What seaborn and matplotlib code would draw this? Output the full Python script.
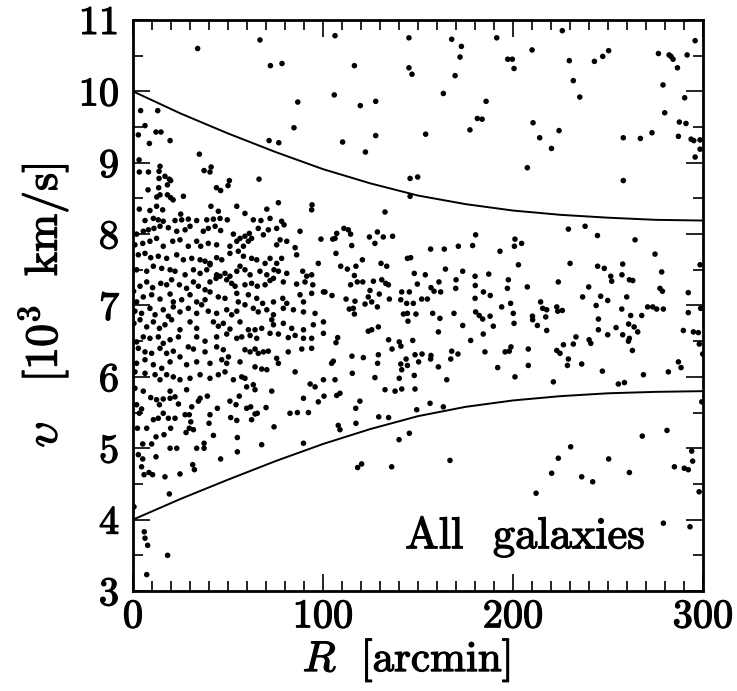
import matplotlib
matplotlib.use("Agg")
import matplotlib.pyplot as plt
import matplotlib.patheffects as pe
import seaborn as sns
import pandas as pd
from matplotlib.ticker import MultipleLocator

# Galaxies (projected radius R in arcmin, line-of-sight velocity v in 10^3 km/s)
upper_band = [
    (34.0, 10.60), (66.8, 10.72), (72.3, 10.36), (78.4, 10.39), (86.7, 9.85), (84.7, 9.49), (71.6, 9.31), (76.7, 9.28),
    (4.0, 9.73), (13.0, 9.73), (6.3, 9.52), (2.8, 9.39), (12.1, 9.43), (14.7, 9.43), (8.6, 9.27), (19.5, 9.31), (3.2, 9.04), (34.9, 9.12),
    (3.3, 8.87), (8.1, 8.87), (13.7, 8.88), (14.2, 8.95), (13.7, 8.78), (16.8, 8.81), (19.1, 8.77), (19.8, 8.75), (18.1, 8.69),
    (7.9, 8.62), (13.5, 8.65), (12.5, 8.52), (14.2, 8.55), (18.1, 8.55), (19.8, 8.51), (21.1, 8.48), (26.5, 8.53),
    (37.4, 8.89), (40.5, 8.87), (41.1, 8.94), (43.9, 8.65), (46.1, 8.61), (50.0, 8.68), (50.7, 8.75), (66.3, 8.77), (76.5, 8.44), (94.2, 8.41),
    (106.3, 10.78), (145.2, 10.75), (167.7, 10.73), (172.8, 10.63), (172.1, 10.48), (191.4, 10.75), (197.2, 10.45), (199.6, 10.45), (200.5, 10.32),
    (116.5, 10.36), (145.2, 10.33), (146.8, 10.24), (169.5, 10.22), (105.9, 9.95), (119.6, 9.80), (127.7, 9.86), (163.3, 9.97), (185.8, 9.86),
    (181.2, 9.62), (183.7, 9.61), (177.3, 9.46), (154.0, 9.40), (127.7, 9.38), (110.3, 9.29), (122.3, 9.15), (145.8, 8.78), (149.8, 8.80), (145.8, 8.53),
    (225.9, 10.85), (210.0, 10.58), (229.6, 10.43), (231.7, 10.15), (235.1, 9.92), (242.8, 10.42), (247.2, 10.49), (250.3, 10.57),
    (276.5, 10.53), (282.1, 10.51), (283.1, 10.49), (284.2, 10.45), (286.5, 10.33), (291.6, 10.51), (295.8, 10.71), (278.9, 10.09), (290.3, 9.91), (279.8, 9.70),
    (210.5, 9.56), (214.0, 9.35), (224.2, 9.45), (220.2, 9.20), (207.5, 8.93), (258.0, 9.35), (267.0, 9.34), (273.1, 9.42), (287.5, 9.57), (291.0, 9.55),
    (287.0, 9.37), (293.7, 9.33), (295.1, 9.31), (298.4, 9.32), (298.4, 9.19), (295.8, 9.08), (258.0, 8.75),
]

core = [
    (3.3, 8.35), (8.9, 8.33), (15.6, 8.34), (12.4, 8.39), (25.1, 8.28), (44.9, 8.32), (54.6, 8.39), (58.9, 8.29), (70.4, 8.35), (94.0, 8.34), (41.0, 8.39),
    (6.3, 8.19), (10.7, 8.22), (13.3, 8.20), (15.9, 8.18), (22.1, 8.19), (25.6, 8.20), (29.1, 8.21), (33.5, 8.19), (38.8, 8.20), (42.3, 8.21), (45.8, 8.22),
    (49.6, 8.20), (63.3, 8.20), (67.3, 8.19), (72.1, 8.22), (78.2, 8.18), (79.5, 8.13),
    (1.9, 8.00), (5.4, 8.04), (8.1, 8.06), (11.0, 8.08), (14.2, 8.11), (18.6, 8.09), (23.0, 8.04), (27.4, 8.06), (30.0, 8.11), (37.0, 8.04), (39.6, 8.08),
    (43.2, 8.11), (46.1, 8.05), (52.8, 8.00), (56.3, 7.94), (58.9, 7.97), (61.2, 8.01), (65.9, 8.08), (68.6, 7.99), (71.2, 8.06), (75.6, 8.08), (87.9, 8.04), (98.9, 7.93),
    (1.0, 7.85), (5.1, 7.87), (8.9, 7.90), (12.4, 7.94), (15.9, 7.83), (20.9, 7.90), (24.7, 7.92), (29.1, 7.83), (33.5, 7.90), (35.6, 7.83), (39.6, 7.87),
    (44.0, 7.85), (51.0, 7.83), (54.6, 7.90), (58.1, 7.83), (60.7, 7.90), (62.4, 7.94), (75.6, 7.85), (77.4, 7.92), (80.9, 7.90), (85.3, 7.81), (86.1, 7.71),
    (2.8, 7.71), (6.3, 7.73), (9.3, 7.67), (13.3, 7.69), (17.7, 7.66), (23.0, 7.71), (26.5, 7.64), (30.9, 7.66), (35.3, 7.64), (37.9, 7.62), (40.5, 7.59),
    (44.0, 7.67), (46.7, 7.64), (51.0, 7.73), (55.4, 7.76), (58.1, 7.69), (62.4, 7.66), (65.1, 7.64), (69.5, 7.59), (72.1, 7.66), (75.6, 7.59), (78.2, 7.66), (97.5, 7.59),
    (1.9, 7.50), (7.2, 7.48), (10.7, 7.55), (15.1, 7.52), (19.5, 7.50), (22.1, 7.48), (27.4, 7.43), (31.8, 7.50), (35.3, 7.45), (38.8, 7.50), (40.5, 7.57),
    (44.0, 7.43), (48.4, 7.45), (51.0, 7.41), (54.6, 7.48), (56.3, 7.55), (58.9, 7.50), (61.6, 7.43), (66.8, 7.48), (70.4, 7.43), (74.2, 7.50), (76.5, 7.48),
    (80.9, 7.45), (89.3, 7.48), (91.4, 7.41), (94.0, 7.43),
    (0.3, 7.20), (3.7, 7.27), (7.2, 7.33), (10.3, 7.25), (14.6, 7.31), (17.7, 7.29), (20.3, 7.36), (24.4, 7.29), (28.2, 7.24), (31.8, 7.33), (34.4, 7.27),
    (37.9, 7.22), (40.5, 7.33), (43.7, 7.38), (45.8, 7.41), (49.3, 7.36), (51.9, 7.31), (53.7, 7.27), (58.9, 7.29), (62.4, 7.31), (65.4, 7.27), (69.5, 7.29),
    (72.1, 7.35), (73.9, 7.38), (79.1, 7.33), (86.1, 7.30), (90.5, 7.33), (94.6, 7.29), (100.2, 7.19),
    (1.9, 7.05), (5.4, 7.12), (9.8, 7.15), (14.2, 7.09), (19.5, 7.16), (21.2, 7.05), (25.6, 7.08), (30.0, 7.15), (33.5, 7.05), (37.9, 7.08), (40.5, 7.19),
    (44.9, 7.12), (48.4, 7.10), (54.6, 7.17), (55.4, 7.05), (60.7, 7.15), (65.1, 7.10), (68.2, 7.03), (73.9, 7.05), (78.8, 7.10), (80.9, 7.03), (87.9, 7.15),
    (89.7, 7.05), (94.0, 7.17), (101.0, 7.19),
    (1.0, 6.92), (4.5, 6.89), (8.9, 6.96), (11.6, 6.87), (15.9, 6.94), (18.6, 6.85), (21.2, 6.98), (24.7, 6.91), (29.1, 6.96), (33.5, 6.89), (36.1, 7.01),
    (39.6, 6.92), (44.0, 6.89), (49.3, 6.94), (51.9, 6.87), (54.6, 6.92), (58.9, 7.01), (63.3, 6.96), (65.9, 6.91), (70.4, 6.94), (73.9, 6.87), (79.1, 6.96),
    (84.4, 6.94), (89.7, 6.91), (95.8, 6.89),
    (0.5, 6.75), (3.7, 6.80), (7.2, 6.70), (10.7, 6.77), (13.9, 6.68), (16.8, 6.73), (20.3, 6.80), (24.7, 6.66), (30.0, 6.77), (33.5, 6.68), (42.3, 6.77),
    (44.9, 6.71), (47.5, 6.75), (51.0, 6.67), (56.3, 6.77), (60.7, 6.66), (64.2, 6.66), (67.7, 6.68), (73.0, 6.80), (73.9, 6.73), (79.1, 6.75), (83.5, 6.68),
    (89.7, 6.66), (94.9, 6.73), (100.2, 6.77), (100.2, 6.61),
    (1.9, 6.49), (5.4, 6.56), (8.9, 6.54), (13.3, 6.56), (15.9, 6.47), (19.5, 6.52), (23.9, 6.56), (33.5, 6.56), (37.9, 6.50), (44.0, 6.56), (49.3, 6.60),
    (54.6, 6.54), (57.2, 6.56), (61.6, 6.58), (65.1, 6.54), (72.1, 6.61), (76.5, 6.60), (81.7, 6.55), (85.3, 6.58), (89.7, 6.54), (94.0, 6.54),
    (2.8, 6.40), (6.3, 6.35), (9.8, 6.33), (14.2, 6.40), (17.7, 6.33), (21.2, 6.36), (24.7, 6.28), (29.1, 6.42), (31.8, 6.39), (37.9, 6.35), (44.0, 6.42),
    (47.5, 6.38), (50.2, 6.28), (58.9, 6.38), (61.6, 6.35), (64.2, 6.39), (65.9, 6.33), (68.6, 6.35), (71.2, 6.36), (75.6, 6.26), (81.7, 6.35), (88.8, 6.39), (94.0, 6.40),
    (1.9, 6.19), (6.3, 6.24), (10.7, 6.17), (15.1, 6.12), (19.5, 6.21), (28.2, 6.17), (33.5, 6.21), (40.5, 6.19), (46.7, 6.24), (49.3, 6.19), (56.3, 6.21),
    (64.2, 6.14), (67.7, 6.11), (70.4, 6.10), (76.5, 6.19),
    (1.0, 6.07), (6.3, 6.05), (11.6, 6.03), (14.2, 5.96), (17.7, 6.03), (21.2, 6.00), (24.7, 5.96), (30.0, 5.98), (35.3, 6.03), (40.5, 5.98), (44.9, 6.03),
    (48.4, 6.07), (52.8, 5.96), (57.2, 6.00), (58.9, 5.98), (63.3, 5.89), (85.3, 6.07), (100.2, 5.96), (93.2, 5.90),
    (1.0, 5.84), (5.4, 5.80), (19.5, 5.80), (28.2, 5.82), (59.8, 5.86), (64.2, 5.82), (73.0, 5.80), (95.8, 5.86),
]

middle = [
    (132.6, 8.31), (111.0, 8.08), (113.3, 8.06), (114.5, 8.00), (107.2, 8.01), (105.1, 7.93), (106.3, 7.94), (124.4, 7.96), (128.6, 8.03), (131.7, 7.96),
    (136.6, 7.97), (127.3, 7.87), (115.1, 7.84), (106.8, 7.73), (120.7, 7.64), (109.3, 7.55), (112.8, 7.51), (117.3, 7.55), (130.5, 7.59), (133.5, 7.55),
    (144.4, 7.66), (146.1, 7.67), (156.6, 7.79), (163.8, 7.79), (171.2, 7.83), (178.7, 7.84), (180.3, 7.99), (193.1, 7.76), (201.0, 7.93), (200.7, 7.83), (202.8, 7.57),
    (116.5, 7.42), (118.0, 7.33), (120.9, 7.33), (126.5, 7.34), (130.9, 7.36), (133.0, 7.31), (134.4, 7.29), (114.5, 7.29), (148.0, 7.45), (153.8, 7.43),
    (164.4, 7.51), (173.5, 7.48), (180.0, 7.41), (187.2, 7.44), (197.5, 7.36), (149.6, 7.30), (156.8, 7.25), (158.4, 7.20), (161.0, 7.33), (161.9, 7.19),
    (170.0, 7.36), (169.8, 7.24), (180.1, 7.28), (184.4, 7.19), (188.0, 7.14), (197.0, 7.24),
    (104.7, 7.14), (112.1, 7.09), (116.8, 7.06), (124.7, 7.21), (123.8, 7.12), (122.1, 7.02), (125.6, 7.05), (115.9, 6.96), (113.8, 6.95), (116.5, 6.88),
    (129.6, 7.16), (128.6, 6.98), (134.9, 7.09), (141.4, 7.19), (145.4, 7.19), (140.9, 7.08), (144.0, 7.03), (147.5, 7.03), (151.9, 7.09), (154.9, 7.09),
    (142.3, 6.88), (144.4, 6.89), (148.9, 6.88), (144.7, 6.78), (157.7, 6.89), (161.5, 6.82), (168.9, 6.89), (173.5, 6.72), (180.0, 7.10), (180.3, 6.91),
    (182.2, 6.86), (184.0, 6.81), (187.9, 6.85), (189.6, 6.71), (194.0, 6.98), (198.7, 7.03), (200.1, 6.89), (200.5, 6.75),
    (160.7, 6.63), (184.3, 6.60), (123.8, 6.64), (125.6, 6.66), (129.1, 6.70), (106.8, 6.48), (107.7, 6.55), (134.5, 6.52), (136.3, 6.39), (140.1, 6.49),
    (141.0, 6.43), (147.2, 6.51), (148.4, 6.31), (152.1, 6.32), (156.8, 6.30), (167.7, 6.36), (167.2, 6.25), (171.0, 6.32), (177.7, 6.51), (185.2, 6.35),
    (195.8, 6.35), (198.0, 6.36), (198.9, 6.42),
    (105.4, 6.22), (104.5, 6.19), (115.2, 6.29), (121.2, 6.27), (129.1, 6.31), (128.7, 6.19), (140.9, 6.18), (141.4, 6.10), (144.4, 6.16), (143.7, 6.25),
    (150.3, 6.21), (148.0, 6.02), (156.6, 6.25), (160.7, 6.14), (191.9, 6.13), (201.0, 6.00), (115.4, 6.05), (127.3, 5.99), (140.1, 5.98), (165.1, 5.96),
    (106.3, 5.96), (132.6, 5.82), (137.9, 5.80), (141.4, 5.83), (148.4, 5.83), (108.9, 5.77),
]

outskirts = [
    (229.1, 8.07), (237.9, 8.11), (244.4, 7.98), (264.2, 7.92), (274.7, 7.72), (204.5, 7.87), (230.0, 7.59), (244.5, 7.55), (248.0, 7.52), (257.7, 7.58),
    (257.3, 7.43), (251.4, 7.41), (251.9, 7.34), (261.2, 7.36), (263.0, 7.35), (278.2, 7.47), (223.8, 7.33), (207.5, 7.26), (239.8, 7.26), (236.6, 7.12),
    (246.1, 7.13), (249.8, 7.07), (243.7, 7.00), (259.8, 7.12), (277.3, 7.24), (278.6, 7.20), (292.2, 7.18),
    (214.5, 7.05), (215.6, 6.96), (217.7, 6.94), (223.0, 6.98), (223.5, 6.92), (225.9, 6.93), (257.2, 6.95), (261.9, 6.86), (270.8, 6.98), (273.5, 6.98),
    (275.6, 6.95), (279.1, 6.95), (267.7, 6.86), (210.2, 6.85), (210.3, 6.80), (217.2, 6.84), (212.8, 6.72), (217.7, 6.65), (244.9, 6.81), (244.9, 6.66),
    (254.2, 6.69), (260.8, 6.74), (263.7, 6.70), (265.6, 6.63), (257.7, 6.59), (261.2, 6.54), (260.7, 6.50), (249.8, 6.59), (262.8, 6.37), (289.6, 6.65),
    (292.2, 6.90), (294.9, 6.63), (297.5, 6.62), (298.4, 7.57), (298.7, 6.96), (298.0, 6.46), (299.8, 6.32),
    (233.1, 6.56), (231.7, 6.46), (226.5, 6.45), (240.0, 6.52), (240.9, 6.47), (223.0, 6.37), (224.7, 6.33), (208.0, 6.39), (229.1, 6.25), (228.6, 6.16),
    (208.0, 6.16), (236.1, 6.18), (221.2, 5.93), (247.0, 6.08), (255.4, 5.90), (258.6, 5.92), (268.6, 6.03), (281.7, 6.07), (287.0, 6.21), (288.4, 6.13),
]

lower_band = [
    (9.3, 5.71), (12.4, 5.68), (15.9, 5.69), (19.5, 5.70), (22.1, 5.72), (23.9, 5.62), (1.9, 5.61), (4.5, 5.55), (3.3, 5.49), (13.9, 5.61), (15.9, 5.49),
    (10.7, 5.40), (13.3, 5.42), (18.6, 5.42), (22.1, 5.42), (27.4, 5.47), (29.6, 5.47), (30.4, 5.37), (29.6, 5.28), (31.8, 5.26), (27.9, 5.22), (35.3, 5.70),
    (39.1, 5.73), (30.9, 5.58), (34.4, 5.66), (44.4, 5.56), (40.5, 5.47), (40.0, 5.35), (42.3, 5.18), (37.4, 5.07), (33.5, 5.00), (37.4, 5.00), (51.0, 5.66),
    (54.2, 5.61), (55.9, 5.73), (51.4, 5.43), (54.6, 5.39), (59.8, 5.56), (61.9, 5.58), (64.2, 5.48), (65.4, 5.49), (62.4, 5.40), (54.9, 5.15), (54.9, 4.95),
    (67.7, 5.05), (70.0, 5.57), (74.2, 5.30), (82.6, 5.49), (86.5, 5.50), (92.3, 5.50), (89.7, 5.70), (97.5, 5.65), (100.5, 5.73), (89.7, 5.07), (2.3, 5.28),
    (7.2, 5.28), (5.1, 5.06), (9.8, 5.06), (12.1, 5.16), (16.3, 5.19), (19.8, 5.28), (12.1, 4.88), (19.5, 5.00), (23.0, 5.00), (2.8, 4.91), (5.1, 4.85),
    (4.5, 4.74), (5.8, 4.63), (8.4, 4.66), (10.3, 4.63), (16.8, 4.60), (24.7, 4.64), (31.4, 4.77), (32.3, 4.70), (46.1, 4.85), (19.1, 4.36), (0.5, 4.18),
    (5.9, 3.83), (6.3, 3.74), (7.7, 3.64), (18.2, 3.50), (7.2, 3.23),
    (107.2, 5.74), (119.4, 5.66), (117.2, 5.56), (108.0, 5.32), (108.9, 5.26), (117.3, 5.35), (129.3, 5.44), (134.5, 5.43), (149.3, 5.54), (156.3, 5.63),
    (163.3, 5.58), (140.0, 5.12), (145.4, 5.21), (118.2, 4.73), (120.3, 4.78), (136.1, 4.74), (166.8, 4.83),
    (299.3, 5.65), (212.1, 4.37), (220.3, 4.65), (223.8, 4.86), (230.3, 5.02), (236.1, 4.60), (241.9, 4.53), (250.3, 4.85), (261.2, 4.66),
    (268.0, 5.17), (281.0, 5.25), (284.9, 4.74), (290.1, 4.72), (292.2, 4.70), (294.0, 4.96), (294.5, 4.82), (297.9, 4.39), (279.1, 3.95), (293.1, 3.90),
]

# Caustic curves bounding the cluster members
curve_R = [0, 25, 50, 75, 100, 125, 150, 175, 200, 225, 250, 275, 300]
caustic_upper = [10.0, 9.69, 9.41, 9.15, 8.91, 8.71, 8.54, 8.42, 8.33, 8.27, 8.23, 8.20, 8.19]
caustic_lower = [4.0, 4.29, 4.56, 4.82, 5.06, 5.27, 5.45, 5.58, 5.67, 5.73, 5.77, 5.79, 5.80]

x_ticks = [0, 100, 200, 300]
y_ticks = [3, 4, 5, 6, 7, 8, 9, 10, 11]
panel_label = "All  galaxies"

galaxies = pd.DataFrame(upper_band + core + middle + outskirts + lower_band, columns=["R", "v"])
curves = pd.DataFrame({"R": curve_R, "upper": caustic_upper, "lower": caustic_lower})

sns.set_theme(style="ticks")
plt.rcParams["mathtext.fontset"] = "cm"
plt.rcParams["font.family"] = ["cmr10", "DejaVu Serif"]
plt.rcParams["axes.unicode_minus"] = False

heavy = [pe.withStroke(linewidth=0.9, foreground="black")]

fig, ax = plt.subplots(figsize=(7.37, 6.91), dpi=100)
fig.subplots_adjust(left=0.1805, right=0.954, bottom=0.1447, top=0.9711)

sns.scatterplot(data=galaxies, x="R", y="v", s=16, color="black", edgecolor="none",
                linewidth=0, legend=False, ax=ax)
sns.lineplot(data=curves, x="R", y="upper", color="black", lw=1.4, sort=False,
             estimator=None, ax=ax)
sns.lineplot(data=curves, x="R", y="lower", color="black", lw=1.4, sort=False,
             estimator=None, ax=ax)

ax.set_xlim(0, 300)
ax.set_ylim(3, 11)
ax.set_xticks(x_ticks)
ax.set_yticks(y_ticks)
ax.set_xticklabels([str(t) for t in x_ticks])
ax.set_yticklabels([str(t) for t in y_ticks])
ax.xaxis.set_minor_locator(MultipleLocator(10))
ax.yaxis.set_minor_locator(MultipleLocator(0.5))
ax.tick_params(which="both", direction="in", top=True, right=True, width=1.2,
               color="black", labelsize=29, labelcolor="black", labelfontfamily="cmr10")
ax.tick_params(which="major", length=12)
ax.tick_params(which="minor", length=7)
ax.tick_params(axis="x", which="major", pad=6)
ax.tick_params(axis="y", which="major", pad=10)
for lbl in ax.get_xticklabels() + ax.get_yticklabels():
    lbl.set_path_effects(heavy)
for side in ax.spines.values():
    side.set_linewidth(2)
    side.set_color("black")

ax.set_xlabel(r"$R\ \ [\mathrm{arcmin}]$", fontsize=31, color="black",
              path_effects=heavy)
ax.xaxis.set_label_coords(0.48, -0.082)
ax.set_ylabel(r"$\upsilon\ \ \ [10^3\ \ \mathrm{km/s}]$", fontsize=33, labelpad=6,
              color="black", path_effects=heavy)

ax.text(269, 3.60, panel_label, ha="right", va="baseline", fontsize=32,
        family="cmr10", color="black", path_effects=heavy)

fig.savefig("out.png", dpi=100)
